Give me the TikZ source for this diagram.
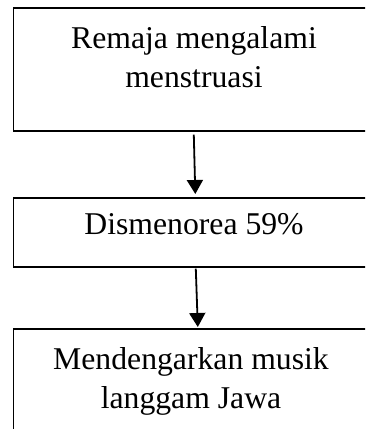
\documentclass[tikz,border=0pt]{standalone}
\usepackage{fontspec}
\setmainfont{Liberation Serif}
\usetikzlibrary{arrows.meta}
\begin{document}
\begin{tikzpicture}[x=1pt,y=-1pt,
  frame/.style={draw,line width=1.6pt,inner sep=0pt,anchor=north west},
  label/.style={inner sep=0pt,align=center,anchor=base,
    font=\fontsize{31.7}{39}\selectfont},
  flow/.style={line width=1.8pt,-{Triangle[length=14pt,width=16pt]}}]
\clip (0,0) rectangle (365,429);
% boxes of the flow, running past the right edge of the page
\node[frame,minimum width=363pt,minimum height=123pt] (b1) at (12.5,7) {};
\node[frame,minimum width=363pt,minimum height=69pt] (b2) at (12.5,197) {};
\node[frame,minimum width=363pt,minimum height=130pt] (b3) at (12.5,328) {};
% texts (base anchor sits on the last line)
\node[label] (t1) at (194,87.5) {Remaja mengalami\\menstruasi};
\node[label] (t2) at (194,234) {Dismenorea 59\%};
\node[label] (t3) at (191,408) {Mendengarkan musik\\langgam Jawa};
% arrows
\draw[flow] ([xshift=-1pt,yshift=-3pt]b1.south) -- ([xshift=0.5pt,yshift=3pt]b2.north);
\draw[flow] ([xshift=1pt,yshift=-1pt]b2.south) -- ([xshift=3pt,yshift=1pt]b3.north);
\end{tikzpicture}
\end{document}
